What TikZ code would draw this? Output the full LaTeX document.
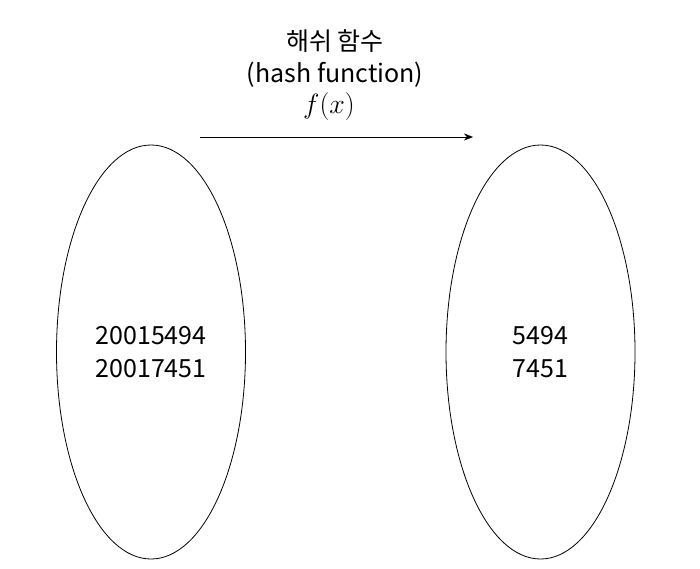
\documentclass[tikz,border=0pt]{standalone}
\usepackage{fontspec}
\setmainfont{Noto Sans CJK KR}
\usepackage{tikz}
\usetikzlibrary{arrows.meta,shapes,positioning}

\begin{document}
\begin{tikzpicture}[
		x=1pt, y=-1pt,
		set/.style={ellipse, draw, thick, minimum width=189pt, minimum height=414pt, inner sep=0pt, align=center, font=\fontsize{25}{33}\selectfont},
		label/.style={inner sep=0pt, font=\fontsize{25}{33}\selectfont},
		->,>={Stealth[length=9pt,width=7pt]}
		]
	
		\useasboundingbox (0,0) rectangle (700,568);
	
		\node[set] (A) at (151, 352) {20015494\\20017451};
		\node[set] (B) at (540.5, 352) {5494\\7451};
	
		\node[label] (T1) at (335, 41) {해쉬 함수};
		\node[label] (T2) at (335, 75) {(hash function)};
		\node[label] (T3) at (329, 107) {\scalebox{1.12}{$f(x)$}};
	
		\coordinate (S) at (200, 137);
		\coordinate (E) at (473, 137);
		\draw[thin] (S) -- (E);
	
	\end{tikzpicture}
\end{document}
